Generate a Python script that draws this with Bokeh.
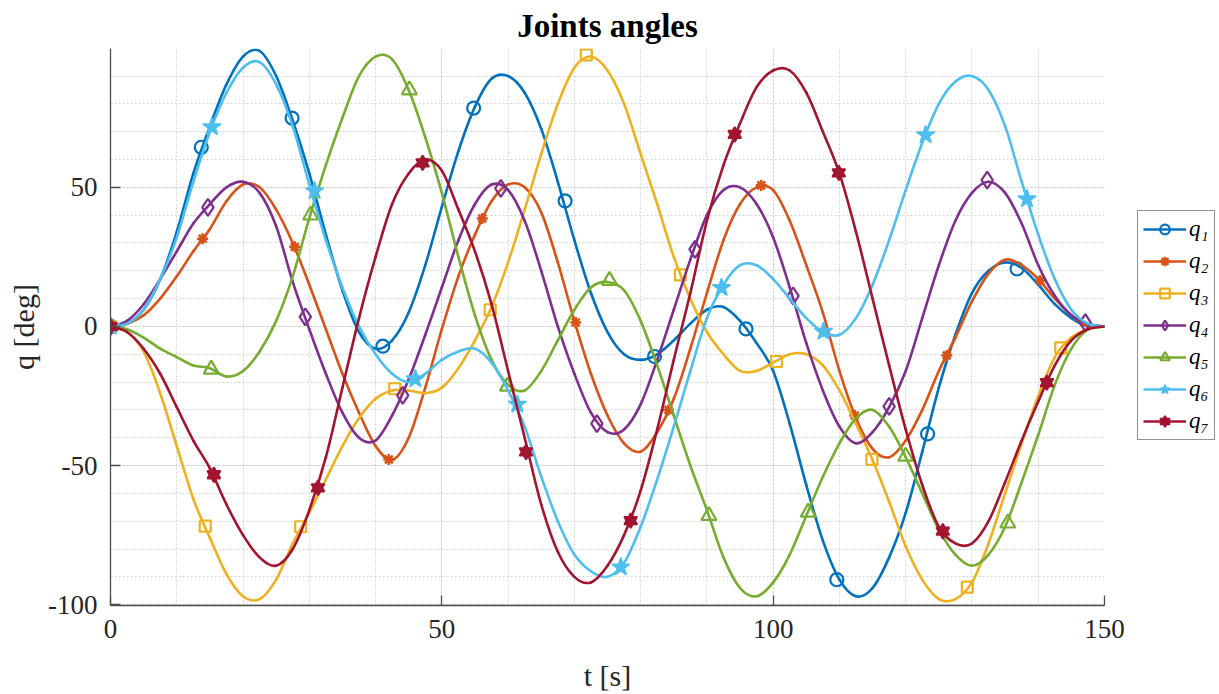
from bokeh.plotting import figure
from bokeh.layouts import row
from bokeh.models import Range1d, SingleIntervalTicker, Legend, LegendItem, PrintfTickFormatter
from bokeh.embed import file_html
from bokeh.resources import INLINE

# time samples [s]
t = [0, 2.5, 5, 7.5, 10, 12.5, 15, 17.5, 20, 22.5, 25, 27.5, 30, 32.5, 35, 37.5, 40, 42.5, 45, 47.5,
     50, 52.5, 55, 57.5, 60, 62.5, 65, 67.5, 70, 72.5, 75, 77.5, 80, 82.5, 85, 87.5, 90, 92.5, 95, 97.5,
     100, 102.5, 105, 107.5, 110, 112.5, 115, 117.5, 120, 122.5, 125, 127.5, 130, 132.5, 135, 137.5,
     140, 142.5, 145, 147.5, 150]

# joint angles [deg]
q1 = [0, 1, 6, 17, 34, 55, 72, 87, 97, 99, 90, 74, 55, 33, 13, -2, -8, -5, 5, 22,
      43, 63, 79, 89, 90, 84, 71, 52, 31, 12, -2, -10, -12, -10, -5, 1, 6, 7, 2, -6,
      -16, -35, -57, -77, -91, -97, -94, -83, -67, -45, -22, -3, 12, 20, 23, 21,
      15, 8, 3, 0, 0]
q2 = [0, 1, 4, 10, 18, 27, 35, 45, 51, 50, 42, 30, 15, -1, -17, -31, -43, -48, -40, -22,
      -1, 18, 33, 45, 51, 50, 41, 23, 2, -17, -32, -42, -45, -38, -26, -8, 12, 31, 44, 50,
      49, 38, 22, 5, -16, -33, -44, -47, -41, -30, -16, -4, 9, 19, 24, 22,
      17, 10, 4, 0, 0]
q3 = [0, -2, -9, -24, -43, -62, -76, -89, -97, -98, -91, -78, -67, -55, -43, -33, -26, -23, -23, -24,
      -22, -15, -5, 7, 23, 42, 62, 80, 93, 97, 92, 80, 62, 44, 25, 10, -2, -10, -16, -16,
      -13, -10, -10, -14, -23, -35, -48, -63, -79, -91, -98, -98, -92, -78, -60, -42,
      -25, -11, -4, -1, 0]
q4 = [0, 2, 8, 17, 27, 37, 44, 50, 52, 48, 36, 16, -1, -17, -31, -40, -41, -32, -19, -3,
      14, 31, 44, 51, 49, 38, 20, 0, -17, -31, -38, -37, -28, -12, 6, 24, 40, 49, 50, 44,
      32, 14, -6, -23, -36, -42, -38, -29, -16, 3, 22, 38, 48, 52, 48, 37,
      22, 11, 4, 1, 0]
q5 = [0, -1, -4, -8, -11, -14, -15, -18, -16, -9, 2, 18, 39, 58, 75, 90, 97, 96, 85, 68,
      48, 25, 4, -12, -21, -23, -16, -5, 6, 14, 16, 13, 2, -14, -32, -50, -66, -83, -94, -97,
      -92, -82, -68, -54, -42, -33, -30, -36, -47, -60, -73, -82, -86, -82, -72, -56,
      -39, -21, -8, -1, 0]
q6 = [0, 1, 6, 17, 32, 52, 70, 84, 93, 95, 87, 72, 51, 31, 14, 0, -10, -17, -20, -17,
      -12, -9, -8, -13, -23, -36, -54, -70, -82, -88, -90, -85, -72, -55, -36, -16, 3, 15, 22, 22,
      17, 10, 3, -2, -3, 3, 15, 31, 49, 66, 80, 88, 90, 85, 72, 52,
      33, 17, 6, 1, 0]
q7 = [0, -2, -8, -17, -29, -41, -51, -64, -75, -83, -86, -80, -66, -47, -22, 3, 25, 44, 55, 60,
      56, 42, 27, 8, -16, -40, -64, -81, -90, -92, -86, -75, -59, -37, -12, 12, 38, 58, 73, 86,
      92, 92, 84, 70, 55, 34, 10, -14, -37, -57, -72, -78, -78, -70, -56, -41,
      -27, -14, -5, -1, 0]

# marker samples (t, value) per joint
m1_t = [0, 13.7, 27.4, 41.1, 54.8, 68.6, 82.1, 95.9, 109.6, 123.3, 136.8]
m1_v = [0, 64.4, 74.9, -7.1, 78.5, 45.1, -10.8, -0.9, -91, -38.6, 20.7]
m2_t = [0, 13.9, 27.8, 42, 56.1, 70.2, 84.2, 98.2, 112.3, 126.2, 140.3]
m2_v = [0, 31.5, 28.6, -47.8, 38.8, 1.4, -30, 50.7, -32, -10.4, 16.5]
m3_t = [0, 14.3, 28.7, 42.9, 57.3, 71.8, 86, 100.5, 114.9, 129.3, 143.4]
m3_v = [0, -71.8, -72, -22.4, 6, 97.6, 18.5, -12.6, -47.8, -93.7, -7.7]
m4_t = [0, 14.7, 29.4, 44.1, 58.9, 73.4, 88.2, 103, 117.5, 132.3, 147.1]
m4_v = [0, 42.8, 3.4, -24.8, 49.6, -34.9, 27.7, 11, -28.7, 52.6, 1.4]
m5_t = [0, 15.2, 30.2, 45.1, 59.9, 75.3, 90.3, 105.3, 120, 135.4]
m5_v = [0, -15.4, 40, 85, -21.5, 16.5, -68, -66.8, -46.7, -70.7]
m6_t = [0, 15.3, 30.8, 46, 61.4, 77, 92.2, 107.6, 123, 138.3]
m6_v = [0, 71.7, 48.7, -18.9, -28, -86.5, 13.9, -1.8, 68.8, 45.8]
m7_t = [0, 15.6, 31.3, 47.1, 62.7, 78.5, 94.2, 109.9, 125.6, 141.3]
m7_v = [0, -53.3, -58, 58.8, -45.1, -69.8, 69, 55.2, -73.6, -20.2]

labels = ["q\u2081", "q\u2082", "q\u2083", "q\u2084", "q\u2085", "q\u2086", "q\u2087"]
colors = ["#0072BD", "#D95319", "#EDB120", "#7E2F8E", "#77AC30", "#4DBEEE", "#A2142F"]

FONT = "Liberation Serif"
AX = "#262626"


def smooth_segments(xs, ys):
    """Catmull-Rom style Bezier control points between consecutive read samples."""
    n = len(xs)
    d = dict(x0=[], y0=[], x1=[], y1=[], cx0=[], cy0=[], cx1=[], cy1=[])
    for i in range(n - 1):
        a = max(i - 1, 0)
        b = min(i + 2, n - 1)
        d["x0"].append(xs[i]); d["y0"].append(ys[i])
        d["x1"].append(xs[i + 1]); d["y1"].append(ys[i + 1])
        d["cx0"].append(xs[i] + (xs[i + 1] - xs[a]) / 6.0)
        d["cy0"].append(ys[i] + (ys[i + 1] - ys[a]) / 6.0)
        d["cx1"].append(xs[i + 1] - (xs[b] - xs[i]) / 6.0)
        d["cy1"].append(ys[i + 1] - (ys[b] - ys[i]) / 6.0)
    return d


def add_markers(fig, i, mt, mv, c):
    out = []
    if i == 0:
        out.append(fig.scatter(mt, mv, marker="circle", size=13, line_color=c, fill_color=None, line_width=2.2))
    elif i == 1:
        out.append(fig.scatter(mt, mv, marker="asterisk", size=11, line_color=c, line_width=2.6))
    elif i == 2:
        out.append(fig.scatter(mt, mv, marker="square", size=11, line_color=c, fill_color=None, line_width=2.2))
    elif i == 3:
        out.append(fig.scatter(mt, mv, marker="diamond", size=17, line_color=c, fill_color=None, line_width=2.2))
    elif i == 4:
        out.append(fig.scatter(mt, mv, marker="triangle", size=15, line_color=c, fill_color=None, line_width=2.2))
    elif i == 5:
        out.append(fig.scatter(mt, mv, marker="star", size=19, line_color=c, fill_color=c, line_width=1.5))
    else:
        out.append(fig.scatter(mt, mv, marker="triangle", size=13, line_color=c, fill_color=c, line_width=1.8))
        out.append(fig.scatter(mt, mv, marker="inverted_triangle", size=13, line_color=c, fill_color=c, line_width=1.8))
    return out


p = figure(width=1130, height=694, output_backend="svg", toolbar_location=None,
           x_range=Range1d(0, 150), y_range=Range1d(-100.3, 99.9),
           min_border_left=110, min_border_right=26, min_border_top=48, min_border_bottom=87,
           title="Joints angles")
p.outline_line_color = None
p.background_fill_color = "white"
p.border_fill_color = "white"

p.title.text_font = FONT
p.title.text_font_size = "33px"
p.title.text_font_style = "bold"
p.title.align = "center"
p.title.text_color = "black"

p.xaxis.ticker = SingleIntervalTicker(interval=50, num_minor_ticks=5)
p.yaxis.ticker = SingleIntervalTicker(interval=50, num_minor_ticks=5)
p.xaxis.formatter = PrintfTickFormatter(format="%d")
p.yaxis.formatter = PrintfTickFormatter(format="%d")
p.xaxis.axis_label = "t [s]"
p.yaxis.axis_label = "q [deg]"
for ax in (p.xaxis[0], p.yaxis[0]):
    ax.axis_label_text_font = FONT
    ax.axis_label_text_font_size = "30px"
    ax.axis_label_text_font_style = "normal"
    ax.axis_label_text_color = AX
    ax.major_label_text_font = FONT
    ax.major_label_text_font_size = "27px"
    ax.major_label_text_color = AX
    ax.axis_line_color = "#4d4d4d"
    ax.axis_line_width = 1.3
    ax.major_tick_in = 10
    ax.major_tick_out = 0
    ax.major_tick_line_color = "#4d4d4d"
    ax.major_tick_line_width = 1.3
    ax.minor_tick_line_color = None
p.xaxis.major_label_standoff = 10
p.xaxis.axis_label_standoff = 18
p.yaxis.major_label_standoff = 9
p.yaxis.axis_label_standoff = 5

for g in (p.xgrid[0], p.ygrid[0]):
    g.grid_line_color = "#c8c8c8"
    g.grid_line_dash = "2 2"
    g.grid_line_width = 1
    g.minor_grid_line_color = "#d2d2d2"
    g.minor_grid_line_dash = "2 2"
    g.minor_grid_line_width = 1

series = [q1, q2, q3, q4, q5, q6, q7]
marks = [(m1_t, m1_v), (m2_t, m2_v), (m3_t, m3_v), (m4_t, m4_v),
         (m5_t, m5_v), (m6_t, m6_v), (m7_t, m7_v)]
for i, (q, (mt, mv), c) in enumerate(zip(series, marks, colors)):
    seg = smooth_segments(t, q)
    p.bezier(line_color=c, line_width=2.6, line_cap="round", **seg)
    add_markers(p, i, mt, mv, c)

# legend panel to the right of the axes; its proxy glyphs sit outside the
# visible range so that only their legend swatches are seen
proxy_x = [2, 3]
proxy_y = [2, 2]
lf = figure(width=89, height=694, output_backend="svg", toolbar_location=None,
            x_range=Range1d(0, 1), y_range=Range1d(0, 1),
            x_axis_location=None, y_axis_location=None, min_border=0)
lf.outline_line_color = None
lf.grid.visible = False
lf.background_fill_color = "white"
lf.border_fill_color = "white"
items = []
for i, (c, lab) in enumerate(zip(colors, labels)):
    rs = [lf.line(proxy_x, proxy_y, line_color=c, line_width=2.6)]
    rs += add_markers(lf, i, proxy_x, proxy_y, c)
    items.append(LegendItem(label=lab, renderers=rs))

legend = Legend(items=items, location=(7, 165))
legend.label_text_font = FONT
legend.label_text_font_style = "italic"
legend.label_text_font_size = "23px"
legend.label_text_color = "black"
legend.glyph_width = 43
legend.glyph_height = 24
legend.label_height = 24
legend.label_standoff = 3
legend.spacing = 6
legend.padding = 5
legend.margin = 0
legend.border_line_color = AX
legend.border_line_width = 1
legend.background_fill_color = "white"
legend.background_fill_alpha = 1
lf.add_layout(legend)

open("out.html", "w").write(file_html(row(p, lf), INLINE))
